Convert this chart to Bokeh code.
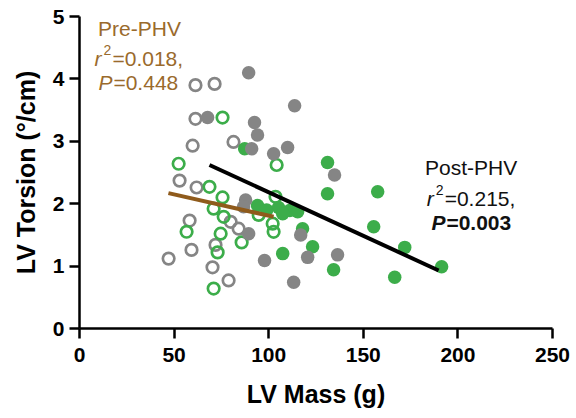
from bokeh.plotting import figure
from bokeh.models import Range1d, FixedTicker, Label
from bokeh.embed import file_html
from bokeh.resources import INLINE

# ---- data (LV mass in g, LV torsion in deg/cm) ----
pre_gray_mass = [61.3, 71.4, 61.3, 59.8, 81.4, 52.9, 61.9, 58.2, 79.9, 84.1, 71.9, 59.2, 47.1, 70.3, 78.8]
pre_gray_tor = [3.90, 3.92, 3.36, 2.93, 2.99, 2.37, 2.26, 1.73, 1.71, 1.60, 1.34, 1.26, 1.12, 0.98, 0.77]

pre_green_mass = [75.6, 52.4, 104.2, 68.7, 75.6, 70.9, 76.2, 56.6, 74.6, 85.7, 73.0, 70.9, 103.6, 94.7, 102.1, 102.6]
pre_green_tor = [3.38, 2.64, 2.62, 2.27, 2.10, 1.92, 1.79, 1.55, 1.52, 1.38, 1.22, 0.64, 2.11, 1.82, 1.68, 1.55]

post_gray_mass = [89.4, 113.7, 67.7, 92.5, 94.1, 91.0, 110.0, 102.6, 134.8, 87.8, 86.7, 89.4, 116.9, 97.8, 120.6, 136.4, 113.2]
post_gray_tor = [4.10, 3.57, 3.38, 3.30, 3.10, 2.88, 2.90, 2.80, 2.46, 2.06, 1.95, 1.52, 1.50, 1.09, 1.14, 1.18, 0.74]

post_green_mass = [87.3, 131.1, 157.6, 131.1, 94.1, 105.2, 111.1, 115.3, 107.4, 155.5, 117.9, 123.2, 171.9, 107.4, 134.3, 191.4, 166.6, 98.9]
post_green_tor = [2.88, 2.66, 2.19, 2.16, 1.97, 1.94, 1.89, 1.87, 1.84, 1.63, 1.60, 1.31, 1.30, 1.20, 0.94, 0.99, 0.82, 1.90]

# regression lines (endpoints of fitted lines)
pre_fit_mass = [47.0, 102.6]
pre_fit_tor = [2.17, 1.79]
post_fit_mass = [68.7, 189.8]
post_fit_tor = [2.62, 0.93]

x_ticks = [0, 50, 100, 150, 200, 250]
y_ticks = [0, 1, 2, 3, 4, 5]

GRAY = "#858585"
GREEN = "#3cad4a"
BROWN_TXT = "#9a6a2c"
BROWN_LINE = "#8f5b1c"
FONT = "Liberation Sans"

p = figure(width=576, height=418, output_backend="svg", toolbar_location=None,
           x_range=Range1d(0, 250), y_range=Range1d(0, 5),
           min_border_left=79, min_border_right=24, min_border_top=16, min_border_bottom=90)
p.outline_line_color = None
p.grid.visible = False
p.background_fill_color = "white"

for ax in (p.xaxis[0], p.yaxis[0]):
    ax.axis_line_width = 2.5
    ax.axis_line_color = "black"
    ax.major_tick_line_width = 2.5
    ax.major_tick_line_color = "black"
    ax.major_tick_out = 10
    ax.major_tick_in = 0
    ax.minor_tick_line_color = None
    ax.major_label_text_font = FONT
    ax.major_label_text_font_style = "bold"
    ax.major_label_text_font_size = "21px"
    ax.major_label_text_color = "black"
    ax.axis_label_text_font = FONT
    ax.axis_label_text_font_style = "bold"
    ax.axis_label_text_font_size = "25px"
    ax.axis_label_text_color = "black"

p.xaxis.ticker = FixedTicker(ticks=x_ticks)
p.yaxis.ticker = FixedTicker(ticks=y_ticks)
p.xaxis.axis_label = "LV Mass (g)"
p.yaxis.axis_label = "LV Torsion (°/cm)"
p.xaxis.major_label_standoff = 9
p.yaxis.major_label_standoff = 5
p.xaxis.axis_label_standoff = 15
p.yaxis.axis_label_standoff = 10

# points
p.scatter(pre_gray_mass, pre_gray_tor, size=11.5, fill_color=None, line_color=GRAY, line_width=2.7)
p.scatter(pre_green_mass, pre_green_tor, size=11.5, fill_color=None, line_color=GREEN, line_width=2.7)
p.scatter(post_green_mass, post_green_tor, size=13.5, fill_color=GREEN, line_color=None)
p.scatter(post_gray_mass, post_gray_tor, size=13.5, fill_color=GRAY, line_color=None)

# regression lines
p.line(pre_fit_mass, pre_fit_tor, line_color=BROWN_LINE, line_width=4)
p.line(post_fit_mass, post_fit_tor, line_color="black", line_width=4)

# annotations
def lab(x, y, text, color, size="21px", style="normal", xo=0, yo=0, align="left"):
    p.add_layout(Label(x=x, y=y, text=text, text_color=color, text_font=FONT,
                       text_font_size=size, text_font_style=style, x_offset=xo, y_offset=yo,
                       text_align=align, text_baseline="alphabetic"))

# Pre-PHV
lab(31.7, 4.80, "Pre-PHV", BROWN_TXT, align="center")
lab(7.9, 4.32, "r", BROWN_TXT, style="italic")
lab(7.9, 4.32, "2", BROWN_TXT, size="14px", xo=9, yo=9)
lab(7.9, 4.32, "=0.018,", BROWN_TXT, xo=18)
lab(10.0, 3.94, "P", BROWN_TXT, style="italic")
lab(10.0, 3.94, "=0.448", BROWN_TXT, xo=15)

# Post-PHV
lab(207.0, 2.58, "Post-PHV", "#111111", align="center")
lab(183.5, 2.08, "r", "#111111", style="italic")
lab(183.5, 2.08, "2", "#111111", size="14px", xo=9, yo=9)
lab(183.5, 2.08, "=0.215,", "#111111", xo=18)
lab(186.0, 1.70, "P", "#111111", style="bold italic")
lab(186.0, 1.70, "=0.003", "#111111", style="bold", xo=15)

open("out.html", "w").write(file_html(p, INLINE))
